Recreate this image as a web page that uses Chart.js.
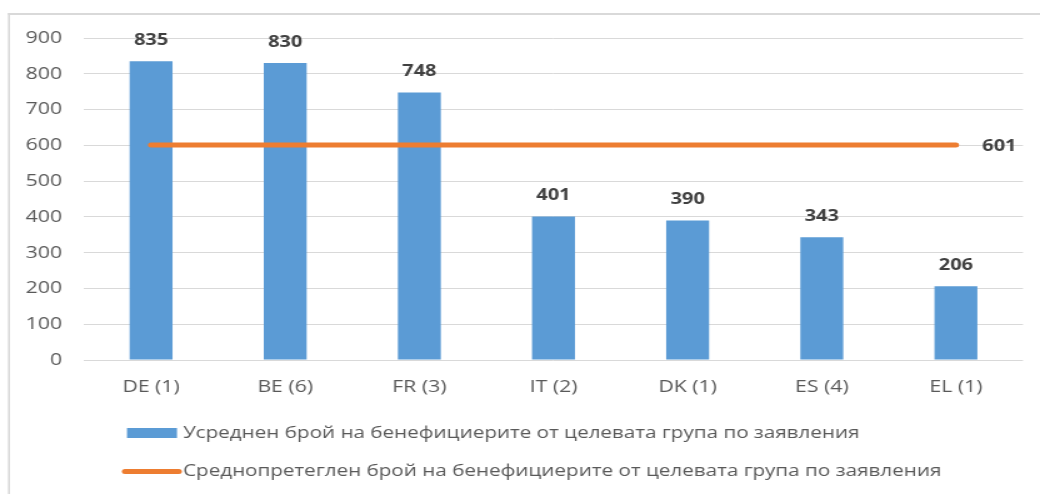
<!DOCTYPE html>
<html>
<head>
<meta charset="utf-8">
<script src="https://cdn.jsdelivr.net/npm/chart.js@4.4.1/dist/chart.umd.min.js"></script>
<style>
  html, body { margin: 0; padding: 0; background: #ffffff; overflow: hidden; }
  #wrap { width: 832px; height: 494px; transform: scaleX(1.25); transform-origin: 0 0; }
  canvas { display: block; }
</style>
</head>
<body>
<div id="wrap"><canvas id="c" width="832" height="494" style="width:832px;height:494px"></canvas></div>
<script>
const categories = ['DE (1)', 'BE (6)', 'FR (3)', 'IT (2)', 'DK (1)', 'ES (4)', 'EL (1)'];
const averagePerApplication = [835, 830, 748, 401, 390, 343, 206];
const weightedAverage = [601, 601, 601, 601, 601, 601, 601];
const seriesNames = [
  'Усреднен брой на бенефициерите от целевата група по заявления',
  'Среднопретеглен брой на бенефициерите от целевата група по заявления'
];
const yMin = 0, yMax = 900, yStep = 100;

const FONT = "'Open Sans', 'DejaVu Sans', sans-serif";
const BLUE = '#5B9BD5', ORANGE = '#ED7D31';

const borderPlugin = {
  id: 'frame',
  beforeDraw(chart) {
    const ctx = chart.ctx;
    ctx.save();
    ctx.fillStyle = '#d9d9d9';
    ctx.fillRect(6.4, 13, 1.6, 494 - 13);
    ctx.fillRect(6.4, 13, 832, 2);
    ctx.restore();
  }
};

const labelsPlugin = {
  id: 'valueLabels',
  afterDatasetsDraw(chart) {
    const ctx = chart.ctx;
    ctx.save();
    ctx.font = "bold 16px " + FONT;
    ctx.fillStyle = '#404040';
    const barMeta = chart.getDatasetMeta(0);
    barMeta.data.forEach((el, i) => {
      ctx.textAlign = 'center';
      ctx.textBaseline = 'middle';
      ctx.fillText(String(chart.data.datasets[0].data[i]), el.x, el.y - 21);
    });
    const lineMeta = chart.getDatasetMeta(1);
    const last = lineMeta.data[lineMeta.data.length - 1];
    const ds = chart.data.datasets[1].data;
    ctx.textAlign = 'left';
    ctx.textBaseline = 'middle';
    ctx.fillText(String(ds[ds.length - 1]), last.x + 21, last.y + 1);
    ctx.restore();
  }
};

const legendPlugin = {
  id: 'customLegend',
  afterDraw(chart) {
    const ctx = chart.ctx;
    ctx.save();
    ctx.font = "16.5px " + FONT;
    ctx.textAlign = 'left';
    ctx.textBaseline = 'middle';
    // bar item
    ctx.fillStyle = chart.data.datasets[0].backgroundColor;
    ctx.fillRect(101.6, 428, 40, 10);
    ctx.fillStyle = '#595959';
    ctx.fillText(chart.data.datasets[0].label, 146.4, 433);
    // line item
    ctx.strokeStyle = chart.data.datasets[1].borderColor;
    ctx.lineWidth = 5;
    ctx.lineCap = 'round';
    ctx.beginPath();
    ctx.moveTo(100, 471.5);
    ctx.lineTo(143, 471.5);
    ctx.stroke();
    ctx.fillText(chart.data.datasets[1].label, 146.4, 471);
    ctx.restore();
  }
};

new Chart(document.getElementById('c'), {
  type: 'bar',
  data: {
    labels: categories,
    datasets: [
      {
        type: 'bar',
        label: seriesNames[0],
        data: averagePerApplication,
        backgroundColor: BLUE,
        borderWidth: 0,
        barPercentage: 0.32,
        categoryPercentage: 1.0,
        order: 1
      },
      {
        type: 'line',
        label: seriesNames[1],
        data: weightedAverage,
        borderColor: ORANGE,
        backgroundColor: ORANGE,
        borderWidth: 5,
        borderCapStyle: 'round',
        pointRadius: 0,
        fill: false,
        tension: 0,
        order: 0
      }
    ]
  },
  options: {
    responsive: false,
    animation: false,
    devicePixelRatio: 1,
    layout: { padding: { left: 0, top: 38, right: 13.6, bottom: 0 } },
    plugins: {
      legend: { display: false },
      tooltip: { enabled: false },
      title: { display: false }
    },
    scales: {
      x: {
        grid: { display: false, drawTicks: false },
        border: { display: false },
        ticks: {
          color: '#595959',
          font: { family: FONT, size: 17 },
          padding: 17,
          maxRotation: 0,
          autoSkip: false
        },
        afterFit(scale) { scale.height = 134; }
      },
      y: {
        min: yMin,
        max: yMax,
        grid: { color: '#d9d9d9', lineWidth: 1, drawTicks: false },
        border: { display: false },
        ticks: {
          stepSize: yStep,
          color: '#595959',
          font: { family: FONT, size: 17 },
          padding: 17.6
        },
        afterFit(scale) { scale.width = 67.2; }
      }
    }
  },
  plugins: [borderPlugin, labelsPlugin, legendPlugin]
});
</script>
</body>
</html>
